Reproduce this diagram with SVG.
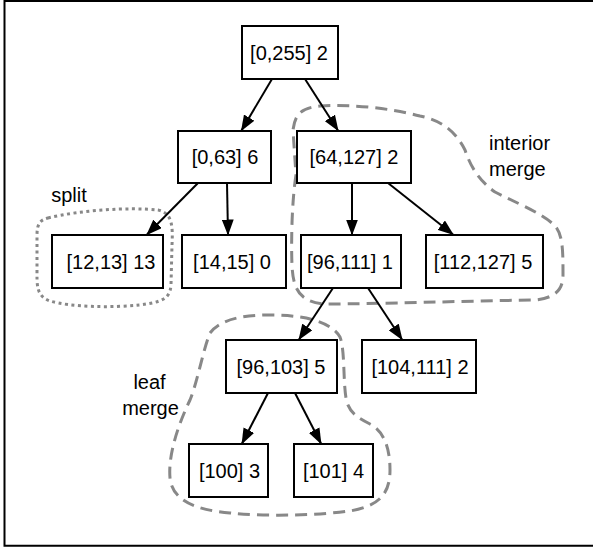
<svg xmlns="http://www.w3.org/2000/svg" width="593" height="548" viewBox="0 0 593 548">
<style>
.box{fill:#fff;stroke:#000;stroke-width:2}
.lbl{font-family:"Liberation Sans",Arial,Helvetica,sans-serif;font-size:20px;fill:#000;text-anchor:middle}
.edge{stroke:#000;stroke-width:2;fill:none;marker-end:url(#ah)}
.hull{fill:none;stroke:#888;stroke-width:3}
.dash{stroke-dasharray:12,7}
.dot{stroke-dasharray:3,3.5}
</style>
<defs>
<marker id="ah" markerWidth="16" markerHeight="12" refX="15" refY="6" orient="auto" markerUnits="userSpaceOnUse">
<path d="M0,0 L16,6 L0,12 Z" fill="#000"/>
</marker>
</defs>
<rect width="593" height="548" fill="#fff"/>
<path d="M605,1 L4.5,1 L4.5,545.8 L605,545.8" fill="none" stroke="#000" stroke-width="2"/>

<g id="hulls">
<path id="hull-split" class="hull dot" d="M48,218 C80,210 130,207 158,210 C172,213 173,225 172,245 L171,285 C170,300 160,302 140,305 C110,308 70,307 50,301 C36,296 37,285 37,270 L37,235 C37,224 40,220 48,218 Z"/>
<path id="hull-interior" class="hull dash" d="M296,175 C292,200 291,240 292,265 C293,290 300,302 325,304 C380,304 460,301 535,300 C555,298 563,290 563,275 C563,250 563,232 553,224 C540,212 510,200 495,192 C478,180 470,165 465,150 C455,130 440,120 420,116 C390,108 350,104 320,106 C300,108 295,115 293,130 Z"/>
<path id="hull-leaf" class="hull dash" d="M210,333 C220,320 240,315 270,315 C300,315 330,320 340,337 C345,350 343,380 346,398 C348,412 358,418 370,424 C385,432 390,450 390,470 C390,495 378,506 350,511 C320,515 270,517 230,513 C195,510 172,500 170,478 C168,455 178,425 190,400 C198,380 203,350 210,333 Z"/>
</g>

<g id="connectors">
<line class="edge" x1="272" y1="79" x2="241.5" y2="130.5"/>
<line class="edge" x1="305" y1="79" x2="338" y2="130.5"/>
<line class="edge" x1="198" y1="183" x2="147" y2="234.5"/>
<line class="edge" x1="227" y1="183" x2="228" y2="234.5"/>
<line class="edge" x1="352" y1="183" x2="352" y2="234.5"/>
<line class="edge" x1="388" y1="183" x2="453" y2="234.5"/>
<line class="edge" x1="333" y1="288" x2="299" y2="339.5"/>
<line class="edge" x1="368" y1="288" x2="402" y2="339.5"/>
<line class="edge" x1="268" y1="393" x2="242" y2="443.5"/>
<line class="edge" x1="295" y1="393" x2="321" y2="443.5"/>
</g>

<g id="n0"><rect class="box" x="242" y="26" width="96" height="53"/><text class="lbl" x="289" y="59.5">[0,255] 2</text></g>
<g id="n1"><rect class="box" x="178" y="131" width="93" height="52"/><text class="lbl" x="225" y="164">[0,63] 6</text></g>
<g id="n2"><rect class="box" x="297" y="131" width="114" height="52"/><text class="lbl" x="354" y="164">[64,127] 2</text></g>
<g id="n3"><rect class="box" x="52" y="235" width="111" height="53"/><text class="lbl" x="111" y="268.5">[12,13] 13</text></g>
<g id="n4"><rect class="box" x="182" y="235" width="104" height="53"/><text class="lbl" x="232" y="268.5">[14,15] 0</text></g>
<g id="n5"><rect class="box" x="301" y="235" width="100" height="53"/><text class="lbl" x="350" y="268.5">[96,111] 1</text></g>
<g id="n6"><rect class="box" x="426" y="235" width="117" height="53"/><text class="lbl" x="483" y="268.5">[112,127] 5</text></g>
<g id="n7"><rect class="box" x="226" y="340" width="111" height="53"/><text class="lbl" x="281" y="373.5">[96,103] 5</text></g>
<g id="n8"><rect class="box" x="362" y="340" width="114" height="53"/><text class="lbl" x="420" y="373.5">[104,111] 2</text></g>
<g id="n9"><rect class="box" x="189" y="444" width="79" height="53"/><text class="lbl" x="229.5" y="477.5">[100] 3</text></g>
<g id="n10"><rect class="box" x="294" y="444" width="79" height="53"/><text class="lbl" x="333.5" y="477.5">[101] 4</text></g>

<g id="labels">
<text class="lbl" x="69" y="201.5">split</text>
<text class="lbl" x="489" y="149.5" style="text-anchor:start">interior</text>
<text class="lbl" x="489" y="175.5" style="text-anchor:start">merge</text>
<text class="lbl" x="149.5" y="388.5">leaf</text>
<text class="lbl" x="150.5" y="415">merge</text>
</g>
</svg>
